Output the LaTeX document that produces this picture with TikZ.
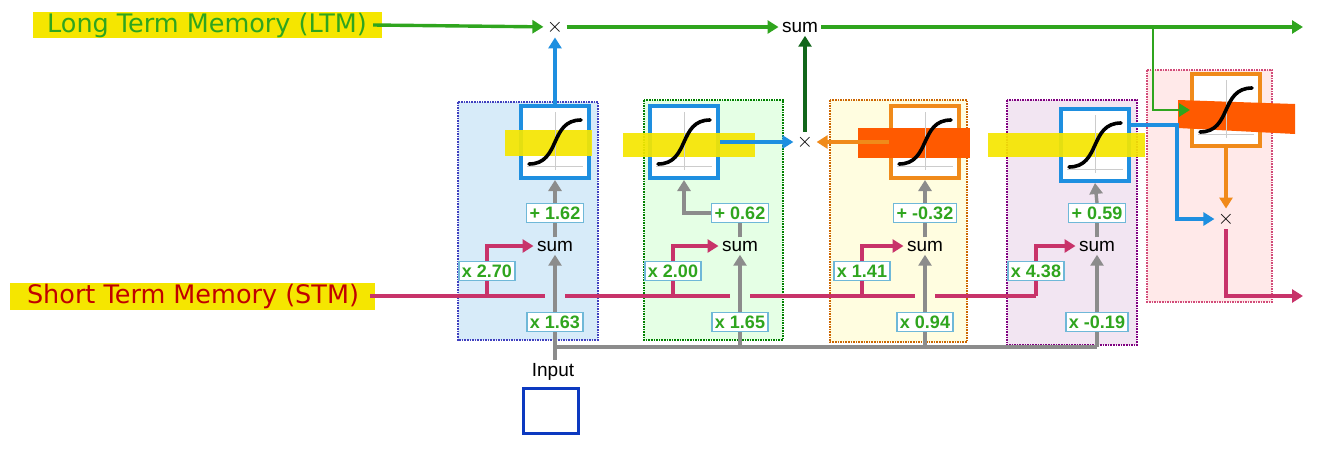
\documentclass[tikz,border=0pt]{standalone}
\usepackage{fontspec}
\setmainfont{Liberation Sans}
\newfontfamily\dv{DejaVu Sans}
\usetikzlibrary{arrows.meta}
\definecolor{cblue}{HTML}{1E8FE0}
\definecolor{cgreen}{HTML}{2FA51E}
\definecolor{cdgreen}{HTML}{11661A}
\definecolor{cmag}{HTML}{C8336A}
\definecolor{cgray}{HTML}{8C8C8C}
\definecolor{corange}{HTML}{F08A1A}
\definecolor{chl}{HTML}{F5E600}
\definecolor{chlo}{HTML}{FF5A00}
\definecolor{cred}{HTML}{C00000}
\definecolor{cwbox}{HTML}{6FB8D8}
\begin{document}
\begin{tikzpicture}[x=1pt,y=-1pt,
  ar/.style={line width=3.4pt,-{Triangle[length=11pt,width=13pt]}},
  ln/.style={line width=3.4pt},
  wbox/.style={draw=cwbox,fill=white,line width=1.3pt,inner sep=3pt,font=\bfseries\fontsize{18}{18}\selectfont,text=cgreen},
  sm/.style={font=\fontsize{19}{19}\selectfont},
  blk/.style={densely dotted,line width=1.6pt},
  sig/.style={fill=white,line width=4pt,minimum width=68pt,minimum height=72pt,draw},
  hl/.style={fill=chl,opacity=0.92},
  hlo/.style={fill=chlo},
]
\useasboundingbox (0,0) rectangle (1338,448);
% blocks
\draw[blk,draw=blue!50!gray,fill=cblue!18] (458,102) rectangle (598,340);
\draw[blk,draw=green!50!black,fill=green!10] (644,100) rectangle (783,340);
\draw[blk,draw=orange!80!black,fill=yellow!12] (830,100) rectangle (967,342);
\draw[blk,draw=violet,fill=violet!10] (1007,100) rectangle (1137,345);
\draw[blk,draw=purple!70,fill=pink!35] (1147,70) rectangle (1272,302);
% sigmoid boxes
\node[sig,draw=cblue] (s1) at (555,142) {};
\node[sig,draw=cblue] (s2) at (684,142) {};
\node[sig,draw=corange] (s3) at (925,142) {};
\node[sig,draw=cblue] (s4) at (1095,145) {};
\node[sig,draw=corange] (s5) at (1226,110) {};
% highlights
\fill[hl] (505,130) rectangle (592,156);
\fill[hl] (623,133) rectangle (755,157);
\fill[hlo] (858,128) rectangle (970,158);
\fill[hl] (988,133) rectangle (1145,157);
\fill[hlo] (1178,100) -- (1295,104) -- (1295,134) -- (1178,128) -- cycle;
\foreach \n in {s1,s2,s3,s4,s5}{
  \draw[gray!40,line width=1pt] ([xshift=-28pt,yshift=-24pt]\n.center) -- ([xshift=28pt,yshift=-24pt]\n.center);
  \draw[gray!40,line width=1pt] ([yshift=30pt]\n.center) -- ([yshift=-28pt]\n.center);
  \draw[line width=3.6pt,line cap=round] ([xshift=-26pt,yshift=-22pt]\n.center) .. controls ([xshift=6pt,yshift=-22pt]\n.center) and ([xshift=-6pt,yshift=22pt]\n.center) .. ([xshift=26pt,yshift=22pt]\n.center);
}
% texts
\fill[chl] (33,12) rectangle (382,38);
\node[text=cgreen,font=\dv\fontsize{25.5}{25.5}\selectfont,inner sep=1pt] (ltm) at (207,25) {Long Term Memory (LTM)};
\fill[chl] (10,283) rectangle (375,310);
\node[text=cred,font=\dv\fontsize{25.5}{25.5}\selectfont,inner sep=1pt] (stm) at (193,296) {Short Term Memory (STM)};
\node[font=\fontsize{20}{20}\selectfont] (m1) at (555,27) {$\times$};
\node[sm] (top) at (800,27) {sum};
\node[font=\fontsize{20}{20}\selectfont] (m2) at (805,142) {$\times$};
\node[font=\fontsize{20}{20}\selectfont] (m3) at (1226,219) {$\times$};
\coordinate (ltmend) at (1303,27);
\coordinate (stmend) at (1303,296);
% LTM line
\draw[ar,cgreen] (ltm.east) ++(5,0) -- (m1);
\draw[ar,cgreen] (m1) -- (top);
\draw[ar,cgreen] (top) -- (ltmend);
\coordinate (br) at (1153,27);
\draw[ar,cgreen,line width=2.8pt] (br) |- (s5.west);
\draw[ar,cblue] (s1.north) -- (m1);
\draw[ar,cdgreen] (m2.north) -- (m2.north |- top.south);
\draw[ar,cblue] (s2.east) -- (m2);
\draw[ar,corange] (s3.west) -- (m2);
\draw[ar,cblue] ([yshift=20pt]s4.east) -- ++(46,0) |- (m3);
\draw[ar,corange] (s5.south) -- (m3);
\draw[ar,cmag] (m3) |- (stmend);
% input
\node[sm] (inl) at (553,372) {Input};
\node[draw=blue!50!cblue!80!black,line width=3.4pt,minimum width=55pt,minimum height=45pt] (inp) at (551,411) {};
\coordinate (bus) at (555,347);
\draw[ln,cgray] (inl.north -| bus) -- (bus) -- (1097,347);
% STM line
\draw[ln,cmag] (stm.east) ++(10,0) -- (545,296);
\draw[ln,cmag] (565,296) -- (730,296);
\draw[ln,cmag] (750,296) -- (915,296);
\draw[ln,cmag] (935,296) -- (1036,296);
% units
\foreach \i/\x/\wx/\b/\w/\iw in {1/555/487/+ 1.62/x 2.70/x 1.63, 2/740/673/+ 0.62/x 2.00/x 1.65, 3/925/862/+ -0.32/x 1.41/x 0.94, 4/1097/1036/+ 0.59/x 4.38/x -0.19}{
  \node[sm] (sum\i) at (\x,246) {sum};
  \node[wbox] (b\i) at (\x,213) {\b};
  \node[wbox] (w\i) at (\wx,271) {\w};
  \node[wbox] (iw\i) at (\x,322) {\iw};
  \draw[ln,cgray] (\x,347) -- (iw\i.south);
  \draw[ar,cgray] (iw\i.north) -- (sum\i.south);
  \draw[ln,cgray] (sum\i.north) -- (b\i.south);
  \draw[ln,cmag] (\wx,296) -- (w\i.south);
  \draw[ar,cmag] (w\i.north) |- (sum\i.west);
}
\draw[ar,cgray] (b1.north) -- (s1.south);
\draw[ar,cgray] (b3.north) -- (s3.south);
\draw[ar,cgray] (b4.north) -- (s4.south);
\draw[ar,cgray] (b2.west) -| (s2.south);
\end{tikzpicture}
\end{document}
